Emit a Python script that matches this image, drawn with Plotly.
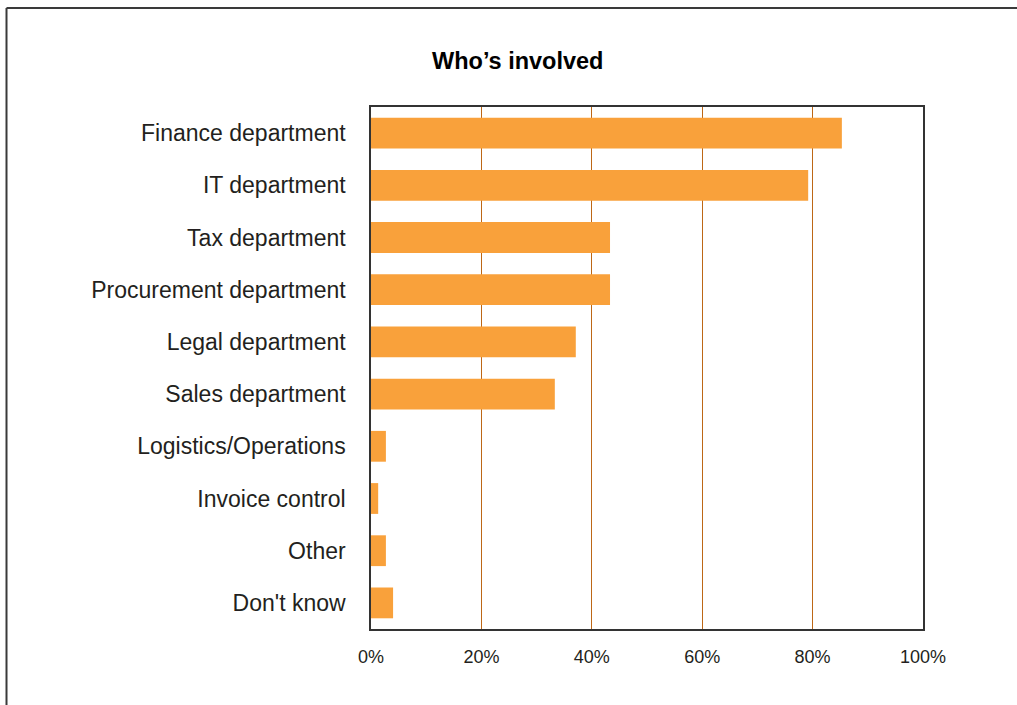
import plotly.graph_objects as go

# Survey responses: who is involved (share of respondents, %)
categories = [
    "Finance department",
    "IT department",
    "Tax department",
    "Procurement department",
    "Legal department",
    "Sales department",
    "Logistics/Operations",
    "Invoice control",
    "Other",
    "Don't know",
]
shares = [85.3, 79.2, 43.3, 43.3, 37.1, 33.3, 2.7, 1.3, 2.7, 4.0]
tick_values = [0, 20, 40, 60, 80, 100]
tick_labels = ["0%", "20%", "40%", "60%", "80%", "100%"]

W, H = 1017, 705
L, R, T, B = 371, 1017 - 923, 107, 705 - 629
FONT = "Liberation Sans, Arial, Helvetica, sans-serif"
TEXT = "#231f20"

fig = go.Figure(
    go.Bar(
        x=shares,
        y=categories,
        orientation="h",
        marker=dict(color="#f9a13b", line=dict(width=0)),
        hoverinfo="x+y",
    )
)


def px_x(px):
    return (px - L) / (W - L - R)


def px_y(py):
    return (H - B - py) / (H - T - B)


fig.update_layout(
    width=W,
    height=H,
    margin=dict(l=L, r=R, t=T, b=B, pad=0),
    paper_bgcolor="white",
    plot_bgcolor="white",
    bargap=0.41,
    showlegend=False,
    font=dict(family=FONT, color=TEXT),
    annotations=[
        dict(
            text="<b>Who’s involved</b>",
            x=px_x(517.5),
            y=px_y(61),
            xref="paper",
            yref="paper",
            xanchor="center",
            yanchor="middle",
            showarrow=False,
            font=dict(size=23.5, family=FONT, color="#000000"),
        )
    ],
    shapes=[
        # page frame (top and left edges)
        dict(type="line", xref="paper", yref="paper",
             x0=px_x(6.5), x1=px_x(1020), y0=px_y(8), y1=px_y(8),
             line=dict(color="#3a3a3a", width=2)),
        dict(type="line", xref="paper", yref="paper",
             x0=px_x(6.5), x1=px_x(6.5), y0=px_y(8), y1=px_y(710),
             line=dict(color="#3a3a3a", width=2)),
    ],
)

fig.update_xaxes(
    range=[0, 100],
    tickvals=tick_values,
    ticktext=tick_labels,
    showgrid=True,
    gridcolor="#bd6716",
    gridwidth=1,
    zeroline=False,
    showline=True,
    linecolor="#333333",
    linewidth=1.5,
    mirror=True,
    ticks="",
    ticklabelstandoff=11,
    tickfont=dict(size=18, family=FONT, color=TEXT),
    fixedrange=True,
)
fig.update_yaxes(
    categoryorder="array",
    categoryarray=categories,
    autorange="reversed",
    showgrid=False,
    zeroline=False,
    showline=True,
    linecolor="#333333",
    linewidth=1.5,
    mirror=True,
    ticks="",
    ticklabelstandoff=19,
    tickfont=dict(size=23, family=FONT, color=TEXT),
    fixedrange=True,
)

fig.write_html("out.html")
